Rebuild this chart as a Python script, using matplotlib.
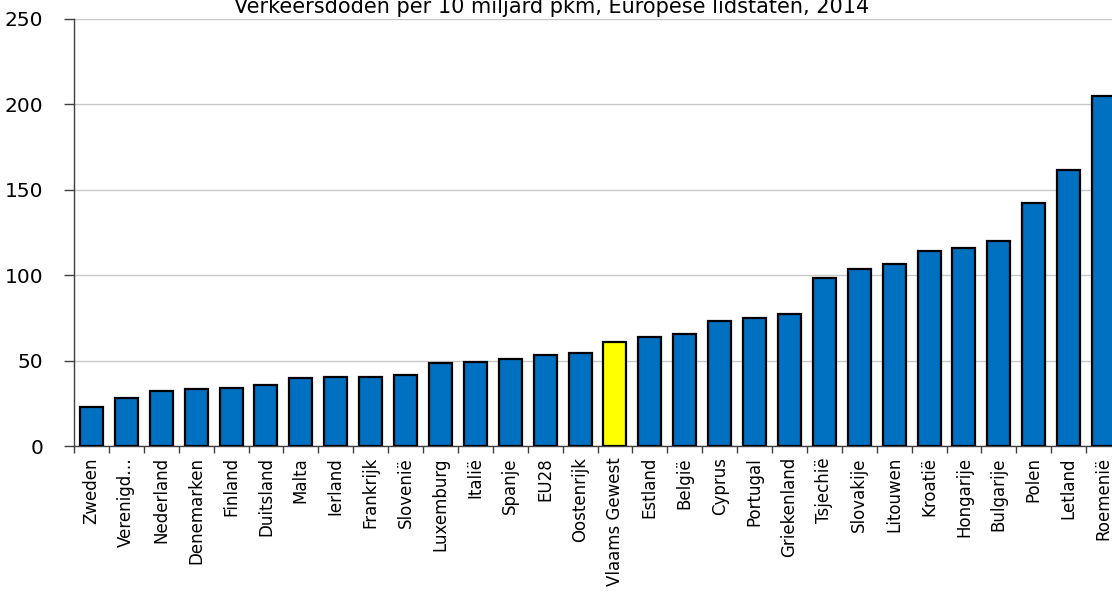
import matplotlib
matplotlib.use("Agg")
import matplotlib.pyplot as plt
import numpy as np

categories = ["Zweden", "Verenigd…", "Nederland", "Denemarken", "Finland", "Duitsland",
              "Malta", "Ierland", "Frankrijk", "Slovenië", "Luxemburg", "Italië", "Spanje",
              "EU28", "Oostenrijk", "Vlaams Gewest", "Estland", "België", "Cyprus",
              "Portugal", "Griekenland", "Tsjechië", "Slovakije", "Litouwen", "Kroatië",
              "Hongarije", "Bulgarije", "Polen", "Letland", "Roemenië"]
values = [23, 28, 32, 33.5, 34, 36, 40, 40.6, 40.6, 41.6, 48.4, 49.2, 50.7, 53.1, 54.6,
          61.1, 63.7, 65.8, 73.0, 75.1, 77.2, 98.3, 103.9, 106.6, 114.4, 115.8, 119.9,
          142, 161.3, 204.9]
highlight = "Vlaams Gewest"
title = "Verkeersdoden per 10 miljard pkm, Europese lidstaten, 2014"
yticks = [0, 50, 100, 150, 200, 250]

W, H = 1112, 592
fig = plt.figure(figsize=(W / 100, H / 100), dpi=100)
left, bottom, top = 74, 146, 19
axw = 30 * 34.9
ax = fig.add_axes([left / W, bottom / H, axw / W, (H - bottom - top) / H])

x = np.arange(len(categories))
colors = ["#FFFF00" if c == highlight else "#0070C0" for c in categories]
ax.bar(x, values, width=0.66, color=colors, edgecolor="black", linewidth=1.6, zorder=3)

ax.set_xlim(-0.5, len(categories) - 0.5)
ax.set_ylim(0, 250)
ax.set_yticks(yticks)
ax.set_yticklabels([str(t) for t in yticks], fontsize=14.5, family="DejaVu Sans")
ax.tick_params(axis="y", length=7, width=1, color="#404040", pad=15)
ax.yaxis.grid(True, color="#C8C8C8", linewidth=1, zorder=0)

ax.set_xticks(x)
ax.set_xticklabels(categories, rotation=90, fontsize=12, family="DejaVu Sans")
ax.tick_params(axis="x", which="major", length=0, pad=8)
ax.set_xticks(np.arange(-0.5, len(categories), 1), minor=True)
ax.tick_params(axis="x", which="minor", length=5, width=1, color="#404040")

for s in ["top", "right"]:
    ax.spines[s].set_visible(False)
ax.spines["left"].set_color("#404040")
ax.spines["bottom"].set_color("#404040")
ax.spines["left"].set_linewidth(1)
ax.spines["bottom"].set_linewidth(1)

fig.text(552 / W, 1 - 13 / H, title, ha="center", va="baseline", fontsize=15,
         family="DejaVu Sans")

fig.savefig("out.png", dpi=100)
